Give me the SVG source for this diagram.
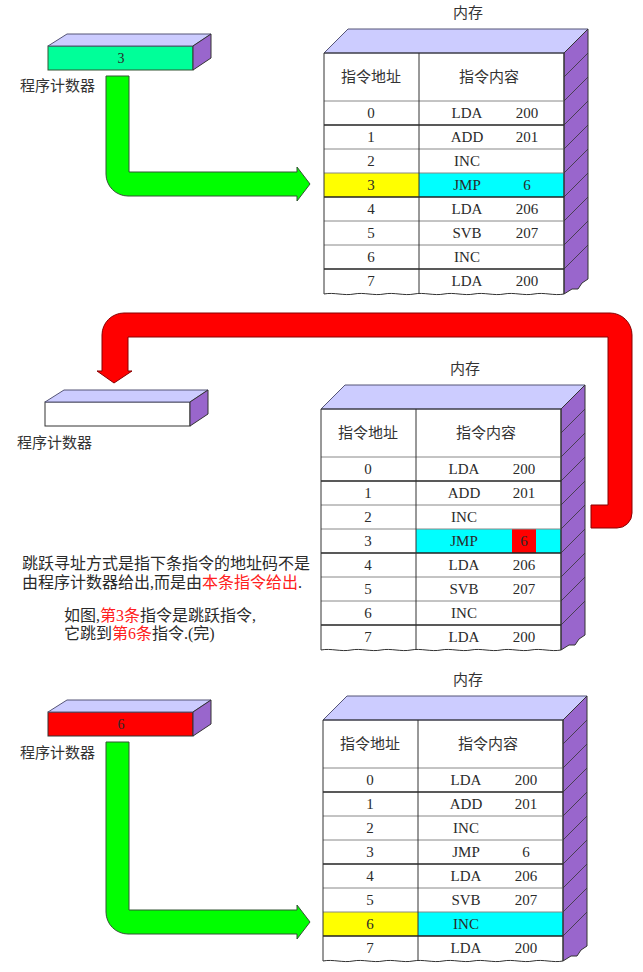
<svg xmlns="http://www.w3.org/2000/svg" xmlns:xlink="http://www.w3.org/1999/xlink" width="643" height="972" viewBox="0 0 643 972">
<style>
.t{font-family:"Liberation Serif","Noto Sans CJK SC",serif;fill:#2a2a2a}
.cj{font-family:"Liberation Serif","Noto Sans CJK SC",serif;font-size:15px;fill:#333}
.r{font-size:15px;text-anchor:middle}
.red{fill:#ff2020}
.top{fill:#ccccff;stroke:#555577;stroke-width:1}
.side{fill:#9966cc;stroke:#333;stroke-width:1}
.sl{stroke:#333;stroke-width:0.8}
.gl{stroke:#888;stroke-width:1}
.bl{stroke:#222;stroke-width:1.6}
.ol{stroke:#333;stroke-width:1;fill:none}
</style>
<defs>
<g id="mem">
  <polygon class="top" points="0,0 24,-24 264,-24 240,0"/>
  <polygon class="side" points="240,0 264,-24 264,226 258,230 254,236 248,236 240,241"/>
  <g class="sl">
    <line x1="240" y1="24" x2="264" y2="0"/>
    <line x1="240" y1="48" x2="264" y2="24"/>
    <line x1="240" y1="72" x2="264" y2="48"/>
    <line x1="240" y1="96" x2="264" y2="72"/>
    <line x1="240" y1="120" x2="264" y2="96"/>
    <line x1="240" y1="144" x2="264" y2="120"/>
    <line x1="240" y1="168" x2="264" y2="144"/>
    <line x1="240" y1="192" x2="264" y2="168"/>
    <line x1="240" y1="216" x2="264" y2="192"/>
  </g>
  <g class="gl">
    <line x1="0" y1="48" x2="240" y2="48"/>
    <line x1="0" y1="96" x2="240" y2="96"/>
    <line x1="0" y1="120" x2="240" y2="120"/>
    <line x1="0" y1="168" x2="240" y2="168"/>
    <line x1="0" y1="192" x2="240" y2="192"/>
  </g>
  <g class="bl">
    <line x1="0" y1="72" x2="240" y2="72"/>
    <line x1="0" y1="144" x2="240" y2="144"/>
    <line x1="0" y1="216" x2="240" y2="216"/>
  </g>
  <path class="ol" d="M0,241 V0 H240 V241 M95,0 V241 M0,241 c10,-2 20,2 30,0 s20,2 30,0 s20,2 30,0 s20,2 30,0 s20,2 30,0 s20,2 30,0 s20,2 30,0 s20,2 30,0"/>
  <text class="cj" x="47" y="29" text-anchor="middle">指令地址</text>
  <text class="cj" x="165" y="29" text-anchor="middle">指令内容</text>
  <g class="t r">
    <text x="47" y="65">0</text><text x="143" y="65">LDA</text><text x="203" y="65">200</text>
    <text x="47" y="89">1</text><text x="143" y="89">ADD</text><text x="203" y="89">201</text>
    <text x="47" y="113">2</text><text x="143" y="113">INC</text>
    <text x="47" y="137">3</text><text x="143" y="137">JMP</text>
    <text x="47" y="161">4</text><text x="143" y="161">LDA</text><text x="203" y="161">206</text>
    <text x="47" y="185">5</text><text x="143" y="185">SVB</text><text x="203" y="185">207</text>
    <text x="47" y="209">6</text><text x="143" y="209">INC</text>
    <text x="47" y="233">7</text><text x="143" y="233">LDA</text><text x="203" y="233">200</text>
  </g>
</g>
<g id="pcshell">
  <polygon class="top" points="0,0 19,-12 163,-12 145,0"/>
  <polygon class="side" points="145,0 163,-12 163,12 145,24"/>
</g>
</defs>
<rect width="643" height="972" fill="#fff"/>

<g id="connectors">
  <path id="arrow1" d="M106,76 H129 V172 H297 V167 L310,184 L297,201 V196 H128 A22,22 0 0 1 106,174 Z" fill="#00ff00" stroke="#335533" stroke-width="1"/>
  <path id="arrow2" d="M591,505 H608 V337 H128 V371 H132 L114,383 L97,371 H102 V335 A22,22 0 0 1 124,313 H610 A22,22 0 0 1 632,335 V513 A15,15 0 0 1 617,528 H591 Z" fill="#ff0000" stroke="#880000" stroke-width="1"/>
  <path id="arrow3" d="M106,742 H129 V910 H297 V905 L310,922 L297,939 V934 H128 A22,22 0 0 1 106,912 Z" fill="#00ff00" stroke="#335533" stroke-width="1"/>
</g>

<g id="pc1">
  <rect x="48" y="46" width="145" height="24" fill="#00ff99" stroke="#335533" stroke-width="1"/>
  <use xlink:href="#pcshell" transform="translate(48,46)"/>
  <text class="t" x="121" y="63" font-size="14" text-anchor="middle" fill="#335533">3</text>
  <text class="cj" x="20" y="91" font-size="16">程序计数器</text>
</g>

<g id="mem1">
  <text class="cj" x="468" y="18" text-anchor="middle">内存</text>
  <g transform="translate(324,53)">
    <rect x="0" y="0" width="240" height="241" fill="#fff"/>
    <rect x="0" y="120" width="95" height="24" fill="#ffff00"/>
    <rect x="95" y="120" width="145" height="24" fill="#00ffff"/>
    <use xlink:href="#mem"/>
    <text class="t r" x="203" y="137">6</text>
  </g>
</g>

<g id="pc2">
  <rect x="45" y="402" width="145" height="24" fill="#fff" stroke="#333" stroke-width="1"/>
  <use xlink:href="#pcshell" transform="translate(45,402)"/>
  <text class="cj" x="17" y="448" font-size="16">程序计数器</text>
</g>

<g id="mem2">
  <text class="cj" x="465" y="374" text-anchor="middle">内存</text>
  <g transform="translate(321,409)">
    <rect x="0" y="0" width="240" height="241" fill="#fff"/>
    <rect x="95" y="120" width="145" height="24" fill="#00ffff"/>
    <rect x="191" y="120" width="24" height="24" fill="#ff0000"/>
    <use xlink:href="#mem"/>
    <text class="t r" x="203" y="137" fill="#880000">6</text>
  </g>
</g>

<g id="note">
  <text class="t" font-size="16" x="22" y="569">跳跃寻址方式是指下条指令的地址码不是</text>
  <text class="t" font-size="16" x="22" y="588">由程序计数器给出,而是由<tspan class="red">本条指令给出</tspan>.</text>
  <text class="t" font-size="16" x="64" y="621">如图,<tspan class="red">第3条</tspan>指令是跳跃指令,</text>
  <text class="t" font-size="16" x="64" y="639">它跳到<tspan class="red">第6条</tspan>指令.(完)</text>
</g>

<g id="pc3">
  <rect x="48" y="712" width="145" height="24" fill="#ff0000" stroke="#333" stroke-width="1"/>
  <use xlink:href="#pcshell" transform="translate(48,712)"/>
  <text class="t" x="121" y="729" font-size="14" text-anchor="middle" fill="#880000">6</text>
  <text class="cj" x="20" y="758" font-size="16">程序计数器</text>
</g>

<g id="mem3">
  <text class="cj" x="468" y="685" text-anchor="middle">内存</text>
  <g transform="translate(323,720)">
    <rect x="0" y="0" width="240" height="241" fill="#fff"/>
    <rect x="0" y="192" width="95" height="24" fill="#ffff00"/>
    <rect x="95" y="192" width="145" height="24" fill="#00ffff"/>
    <use xlink:href="#mem"/>
    <text class="t r" x="203" y="137">6</text>
  </g>
</g>
</svg>
